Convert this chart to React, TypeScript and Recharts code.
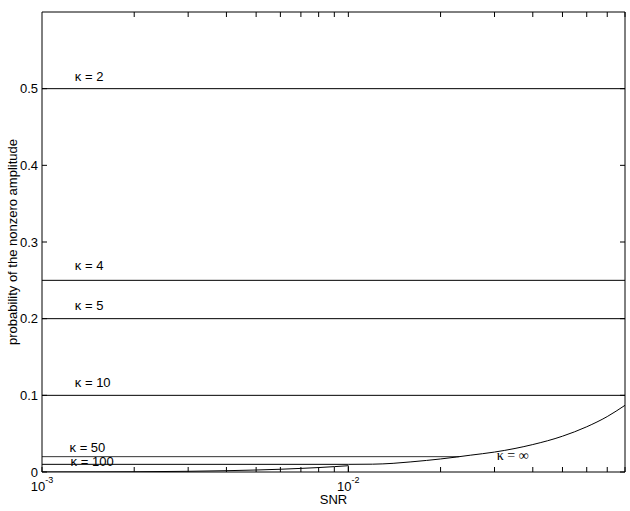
import React from 'react';
import { ComposedChart, Line, XAxis, YAxis, Scatter } from 'recharts';

// ---- data ----
const snrDomain = [0.001, 0.08];
const kappaLevels = [0.5, 0.25, 0.2, 0.1];
const kappa50Snr = [0.001, 0.023];
const kappa50Level = 0.02;
const kappa100Snr = [0.001, 0.01];
const kappa100Level = 0.01;
const lowSnr = [0.001, 0.0015, 0.002, 0.003, 0.004, 0.005, 0.006, 0.007, 0.008, 0.009, 0.01];
const lowProb = [0, 0.0001, 0.0003, 0.0009, 0.0017, 0.0026, 0.0036, 0.0047, 0.0058, 0.007, 0.0082];
const dropSnr = [0.01, 0.01];
const dropProb = [0.0082, 0];
const infSnr = [0.01, 0.012, 0.014, 0.016, 0.018, 0.02, 0.0225, 0.025, 0.03, 0.035, 0.04, 0.05, 0.06, 0.07, 0.08];
const infProb = [0.01, 0.0102, 0.0113, 0.0132, 0.0151, 0.017, 0.0195, 0.0219, 0.026, 0.0307, 0.0358, 0.0467, 0.059, 0.0723, 0.087];
const labelText = ['κ = 2', 'κ = 4', 'κ = 5', 'κ = 10', 'κ = 50', 'κ = 100', 'κ = ∞'];
const labelSnr = [0.00128, 0.00128, 0.00128, 0.00128, 0.00123, 0.00124, 0.0305];
const labelProb = [0.5156, 0.2695, 0.2174, 0.117, 0.0326, 0.0134, 0.0221];
const majorTicks = [0.001, 0.01];
const majorTickExp = ['-3', '-2'];
const minorTicks = [0.002, 0.003, 0.004, 0.005, 0.006, 0.007, 0.008, 0.009, 0.02, 0.03, 0.04, 0.05, 0.06, 0.07, 0.08];
const yTicks = [0, 0.1, 0.2, 0.3, 0.4, 0.5];

const FONT = '"Liberation Sans", Arial, Helvetica, sans-serif';
const SERIF = '"Liberation Serif", "Times New Roman", serif';

const hLine = (snr: number[], level: number) => snr.map((x) => ({ x, y: level }));
const zip = (xs: number[], ys: number[]) => xs.map((x, i) => ({ x, y: ys[i] }));

const labelData = labelText.map((t, i) => ({ x: labelSnr[i], y: labelProb[i], text: t }));

const bottomTicks = [...majorTicks, ...minorTicks].sort((a, b) => a - b);
const topTicks = [0.01, ...minorTicks].sort((a, b) => a - b);

const BottomTick = (props: any) => {
  const { x, y, payload } = props;
  const idx = majorTicks.indexOf(payload.value);
  if (idx < 0) return <g />;
  return (
    <text x={x} y={y + 16} textAnchor="middle" fontFamily={FONT} fontSize={13} fill="#000">
      <tspan>10</tspan>
      <tspan dy={-8} fontSize={9}>{majorTickExp[idx]}</tspan>
    </text>
  );
};

const EmptyTick = () => <g />;

const YLabel = (props: any) => {
  const vb = props.viewBox || { x: 0, y: 12, width: 42, height: 460 };
  const cx = vb.x + 12;
  const cy = vb.y + vb.height / 2;
  return (
    <text
      x={cx}
      y={cy}
      transform={`rotate(-90 ${cx} ${cy})`}
      textAnchor="middle"
      dominantBaseline="central"
      fontFamily={FONT}
      fontSize={13}
      fill="#000"
    >
      probability of the nonzero amplitude
    </text>
  );
};

const LabelShape = (props: any) => {
  const { cx, cy, payload } = props;
  const serif = payload.text.indexOf('∞') >= 0;
  return (
    <text
      x={cx}
      y={cy}
      textAnchor="start"
      dominantBaseline="central"
      fontFamily={serif ? SERIF : FONT}
      fontSize={serif ? 14 : 13}
      fill="#000"
    >
      {payload.text}
    </text>
  );
};

export default function App() {
  const lineProps = {
    dataKey: 'y',
    stroke: '#000',
    strokeWidth: 1,
    dot: false,
    activeDot: false,
    isAnimationActive: false,
    type: 'linear' as const,
  };
  return (
    <div style={{ position: 'absolute', left: 0, top: 0, width: 630, height: 511, background: '#fff' }}>
      <ComposedChart width={630} height={511} margin={{ top: 11, right: 4, left: 0, bottom: 0 }}>
        <XAxis
          xAxisId={0}
          dataKey="x"
          type="number"
          scale="log"
          domain={snrDomain}
          allowDataOverflow
          ticks={bottomTicks}
          interval={0}
          tickSize={-5}
          tickMargin={8}
          tick={BottomTick}
          height={39}
          stroke="#000"
          axisLine={{ stroke: '#000' }}
          tickLine={{ stroke: '#000' }}
          label={{ value: 'SNR', position: 'insideBottom', offset: 7, fill: '#000', fontSize: 13, fontFamily: FONT }}
        />
        <XAxis
          xAxisId="top"
          orientation="top"
          dataKey="x"
          type="number"
          scale="log"
          domain={snrDomain}
          allowDataOverflow
          ticks={topTicks}
          interval={0}
          tickSize={-5}
          tick={EmptyTick}
          height={1}
          axisLine={{ stroke: '#000' }}
          tickLine={{ stroke: '#000' }}
        />
        <YAxis
          yAxisId={0}
          type="number"
          domain={[0, 0.6]}
          allowDataOverflow
          ticks={yTicks}
          interval={0}
          tickSize={-5}
          tickMargin={9}
          width={42}
          tick={{ fill: '#000', fontSize: 13, fontFamily: FONT }}
          axisLine={{ stroke: '#000' }}
          tickLine={{ stroke: '#000' }}
          label={YLabel}
        />
        <YAxis
          yAxisId="right"
          orientation="right"
          type="number"
          domain={[0, 0.6]}
          allowDataOverflow
          ticks={yTicks}
          interval={0}
          tickSize={-5}
          tick={EmptyTick}
          width={1}
          axisLine={{ stroke: '#000' }}
          tickLine={{ stroke: '#000' }}
        />
        {kappaLevels.map((lv, i) => (
          <Line key={'k' + i} {...lineProps} data={hLine(snrDomain, lv)} />
        ))}
        <Line {...lineProps} data={hLine(kappa50Snr, kappa50Level)} stroke="#333" />
        <Line {...lineProps} data={hLine(kappa100Snr, kappa100Level)} />
        <Line {...lineProps} type="monotone" data={zip(lowSnr, lowProb)} />
        <Line {...lineProps} data={zip(dropSnr, dropProb)} />
        <Line {...lineProps} type="monotone" data={zip(infSnr, infProb)} />
        <Line {...lineProps} xAxisId="top" yAxisId="right" data={hLine(snrDomain, 0.6)} stroke="none" />
        <Scatter data={labelData} dataKey="y" shape={LabelShape} isAnimationActive={false} />
      </ComposedChart>
    </div>
  );
}
